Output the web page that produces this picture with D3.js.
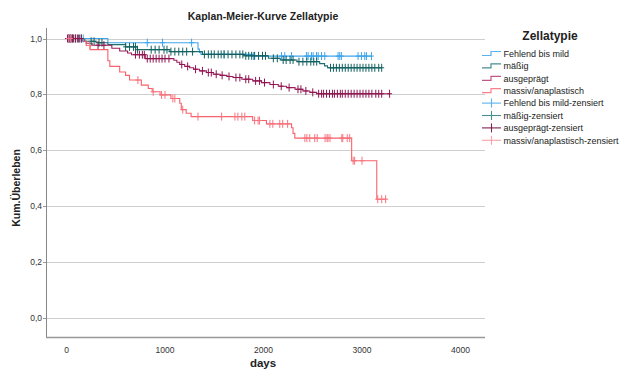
<!DOCTYPE html>
<html><head><meta charset="utf-8">
<script src="https://cdn.jsdelivr.net/npm/d3@7"></script>
<style>body{margin:0;background:#fff}svg{display:block}text{font-family:"Liberation Sans",Arial,sans-serif}</style>
</head><body><svg id="c" width="631" height="371"></svg>
<script>
const groups = ["Fehlend bis mild","mäßig","ausgeprägt","massiv/anaplastisch"];
const xTicks = [0,1000,2000,3000,4000];
const yTicks = [0,0.2,0.4,0.6,0.8,1.0];

// event times and survival after each event
const blueTimes = [420,1335,1350,1365,1900];
const blueSurv  = [0.985,0.962,0.95,0.943,0.937];
const blueEnd = 3100;
const blueCens = [30,60,170,820,975,1270,1600,1900,2183,2216,2284,2436,2453,2487,2504,2538,2555,2589,2622,2757,2774,2791,2960,2994,3028,3045,3096];

const tealTimes = [185,300,420,600,720,1050,1380,1800,2050,2170,2340,2570,2620,2650];
const tealSurv  = [0.99,0.985,0.978,0.97,0.96,0.953,0.943,0.938,0.929,0.923,0.917,0.91,0.902,0.895];
const tealEnd = 3200;
const tealCens = [20,40,60,90,120,150,250,280,330,360,600,640,680,700,720,860,900,940,990,1020,1060,1100,1140,1180,1220,1280,1400,1440,1470,1500,1540,1570,1600,1640,1680,1720,1760,1790,1820,1850,1880,1910,1950,1990,2020,2100,2140,2200,2230,2270,2300,2360,2400,2440,2480,2510,2540,2680,2710,2740,2770,2800,2830,2860,2890,2920,2950,2980,3010,3040,3070,3100,3130,3170,3200];

const marTimes = [165,200,260,460,540,620,660,800,1090,1120,1150,1200,1250,1290,1350,1420,1490,1560,1630,1690,1780,1890,1980,2065,2150,2235,2320,2400,2470,2540];
const marSurv  = [0.99,0.983,0.976,0.965,0.955,0.948,0.942,0.928,0.922,0.915,0.907,0.9,0.895,0.89,0.884,0.878,0.872,0.868,0.864,0.86,0.854,0.848,0.842,0.835,0.829,0.824,0.818,0.812,0.807,0.802];
const marEnd = 3280;
const marCens = [10,25,40,55,70,90,110,130,150,320,380,700,740,770,790,820,850,880,910,940,970,1000,1040,1170,1230,1310,1380,1440,1470,1520,1580,1650,1720,1760,1820,1850,1920,1960,2010,2100,2180,2260,2350,2380,2430,2500,2560,2590,2610,2640,2670,2700,2720,2750,2780,2800,2830,2860,2890,2920,2950,2980,3010,3040,3070,3100,3140,3170,3200,3280];

const redTimes = [170,200,240,420,440,540,600,640,760,830,870,950,1060,1150,1165,1215,1265,1890,2030,2285,2300,2318,2895,3150];
const redSurv  = [0.99,0.975,0.96,0.92,0.9,0.88,0.868,0.851,0.833,0.821,0.809,0.798,0.785,0.768,0.745,0.732,0.72,0.706,0.694,0.68,0.66,0.643,0.562,0.424];
const redEnd = 3250;
const redCens = [20,40,236,725,880,965,1000,1080,1100,1180,1335,1575,1710,1740,1780,1810,1910,1945,1960,2065,2095,2165,2195,2245,2420,2440,2470,2520,2545,2625,2645,2655,2675,2795,2805,2850,2875,2910,2925,3000,3160,3200,3240];

const lineColors = ["#3ea5ec","#1d6f70","#a11d5d","#f8626a"];
const censColors = ["#3ea5ec","#11605f","#8e1450","#f7747e"];
const legLineColors = ["#5ab2ef","#4a8f8f","#c0578a","#f98088"];
const legCensColors = ["#5ab2ef","#4a8f8f","#7e2050","#f9a0a8"];

const data = [
  {t:blueTimes,s:blueSurv,end:blueEnd,c:blueCens},
  {t:tealTimes,s:tealSurv,end:tealEnd,c:tealCens},
  {t:marTimes,s:marSurv,end:marEnd,c:marCens},
  {t:redTimes,s:redSurv,end:redEnd,c:redCens}
];

const svg = d3.select("#c");
const x = d3.scaleLinear().domain([0,4000]).range([66.5,460.5]);
const y = d3.scaleLinear().domain([0,1]).range([317.5,38.5]);
const L = 46, R = 485, T = 28, B = 337.5;

// gridlines
svg.append("g").selectAll("line").data(yTicks).join("line")
  .attr("x1",L).attr("x2",R).attr("y1",d=>Math.round(y(d))+0.5).attr("y2",d=>Math.round(y(d))+0.5)
  .attr("stroke","#cfcfcf").attr("stroke-width",1.2);
// y ticks labels
svg.append("g").selectAll("text").data(yTicks).join("text")
  .attr("x",42).attr("y",d=>y(d)+3).attr("text-anchor","end").attr("font-size",8.5).attr("fill","#333")
  .text(d=>d3.format(".1f")(d).replace(".",","));
svg.append("g").selectAll("line").data(yTicks).join("line")
  .attr("x1",43).attr("x2",L).attr("y1",d=>Math.round(y(d))+0.5).attr("y2",d=>Math.round(y(d))+0.5)
  .attr("stroke","#999");
// axes lines
svg.append("line").attr("x1",L+0.5).attr("x2",L+0.5).attr("y1",T).attr("y2",B).attr("stroke","#888");
svg.append("line").attr("x1",L).attr("x2",R).attr("y1",B).attr("y2",B).attr("stroke","#999").attr("stroke-width",1.5);
// x tick labels
svg.append("g").selectAll("text").data(xTicks).join("text")
  .attr("x",d=>x(d)).attr("y",353).attr("text-anchor","middle").attr("font-size",8.5).attr("fill","#333")
  .text(d=>d);

// titles
svg.append("text").attr("x",263).attr("y",20).attr("text-anchor","middle").attr("font-size",10.5).attr("font-weight","bold").attr("fill","#222").text("Kaplan-Meier-Kurve Zellatypie");
svg.append("text").attr("x",263).attr("y",367).attr("text-anchor","middle").attr("font-size",11.5).attr("font-weight","bold").attr("fill","#222").text("days");
svg.append("text").attr("transform","translate(20,188) rotate(-90)").attr("text-anchor","middle").attr("font-size",10.5).attr("font-weight","bold").attr("fill","#222").text("Kum.Überleben");

function survAt(g,t){let s=1;for(let i=0;i<g.t.length;i++){if(g.t[i]<=t)s=g.s[i];}return s;}

const line = d3.line().x(d=>x(d[0])).y(d=>y(d[1])).curve(d3.curveStepAfter);
data.forEach((g,i)=>{
  const pts=[[0,1]];
  g.t.forEach((t,j)=>pts.push([t,g.s[j]]));
  pts.push([g.end,g.s[g.s.length-1]]);
  svg.append("path").attr("d",line(pts)).attr("fill","none").attr("stroke",lineColors[i]).attr("stroke-width",1.1);
});
data.forEach((g,i)=>{
  const gg=svg.append("g").attr("stroke",censColors[i]).attr("stroke-width",1);
  g.c.forEach(t=>{
    const cx=x(t), cy=y(survAt(g,t));
    gg.append("line").attr("x1",cx).attr("x2",cx).attr("y1",cy-4).attr("y2",cy+4);
    gg.append("line").attr("x1",cx-2.5).attr("x2",cx+2.5).attr("y1",cy).attr("y2",cy);
  });
});

// legend
const lg = svg.append("g");
lg.append("text").attr("x",550).attr("y",40).attr("text-anchor","middle").attr("font-size",12).attr("font-weight","bold").attr("fill","#222").text("Zellatypie");
const labels = groups.concat(groups.map(g=>g+"-zensiert"));
labels.forEach((lab,k)=>{
  const cy = 53.5 + k*12.4;
  if(k<4){
    lg.append("path").attr("d",`M482,${cy+2}H491V${cy-2}H501`).attr("fill","none").attr("stroke",legLineColors[k]).attr("stroke-width",1.2);
  } else {
    const c=legCensColors[k-4];
    lg.append("line").attr("x1",482).attr("x2",501).attr("y1",cy).attr("y2",cy).attr("stroke",c).attr("stroke-width",1.1);
    lg.append("line").attr("x1",491.5).attr("x2",491.5).attr("y1",cy-4.5).attr("y2",cy+4.5).attr("stroke",c).attr("stroke-width",1.1);
  }
  lg.append("text").attr("x",503.5).attr("y",cy+3.2).attr("font-size",9).attr("fill","#222").text(lab);
});
</script></body></html>
